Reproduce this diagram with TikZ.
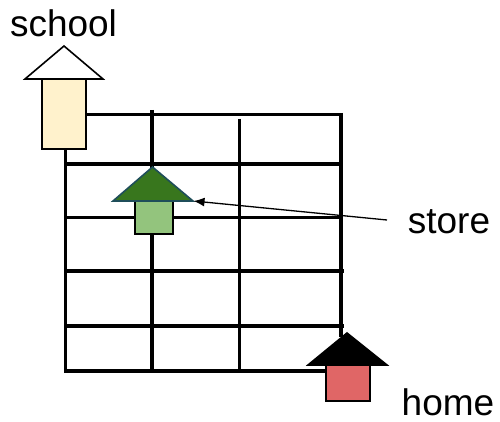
\documentclass[tikz,border=0pt]{standalone}
\usepackage{fontspec}
\setmainfont{Liberation Sans}
\usetikzlibrary{arrows.meta}
\definecolor{schoolfill}{HTML}{FFF2CC}
\definecolor{storetop}{HTML}{38761D}
\definecolor{storeedge}{HTML}{1F4E5A}
\definecolor{storefill}{HTML}{93C47D}
\definecolor{homefill}{HTML}{E06666}
\tikzset{
  gridline/.style={line width=3.3pt, line cap=butt},
  shapeedge/.style={line width=1.6pt, line join=miter},
  lbl/.style={font=\fontsize{37}{40}\selectfont, inner sep=0pt, anchor=base},
}
\begin{document}
\begin{tikzpicture}[x=1pt,y=-1pt]
\useasboundingbox (0,0) rectangle (500,422);
% grid
\draw[gridline] (86,114.5) -- (343,114.5);
\draw[gridline] (66,164) -- (343,164);
\draw[gridline] (66,217.5) -- (343,217.5);
\draw[gridline] (66,271) -- (344,271);
\draw[gridline] (66,326) -- (344,326);
\draw[gridline] (64,371) -- (326,371);
\draw[gridline] (65.5,149) -- (65.5,372.5);
\draw[gridline] (152,110) -- (152,372.5);
\draw[gridline] (239.5,119) -- (239.5,372.5);
\draw[gridline] (341,113) -- (341,337);
% school arrow
\node[lbl] (schoollbl) at (63.5,37) {school};
\draw[shapeedge, fill=schoolfill] (42,79) rectangle (86,149);
\draw[shapeedge, fill=white] (25,79) -- (64,46) -- (103,79) -- cycle;
% store arrow
\draw[shapeedge, fill=storefill] (135,201) rectangle (173,234);
\draw[shapeedge, draw=storeedge, fill=storetop] (113,201) -- (152.5,167) -- (193,201) -- cycle;
\coordinate (storetip) at (193.5,201);
\node[lbl] (storelbl) at (449,233) {store};
\coordinate (storetail) at (387,220);
\draw[line width=1.3pt, -{Latex[length=11pt,width=9pt]}] (storetail) -- (storetip);
% home arrow
\draw[shapeedge, fill=homefill] (326,365) rectangle (370,401);
\draw[shapeedge, fill=black] (308,365) -- (347,333) -- (387,365) -- cycle;
\node[lbl] (homelbl) at (448,415) {home};
\end{tikzpicture}
\end{document}
